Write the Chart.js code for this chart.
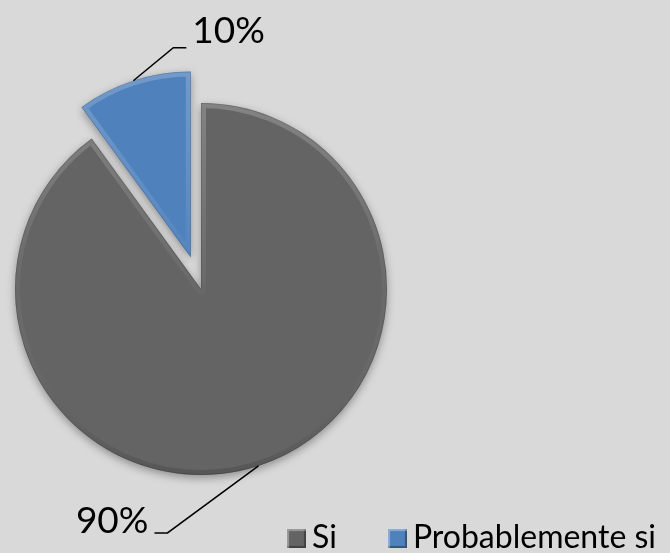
<!DOCTYPE html>
<html>
<head>
<meta charset="utf-8">
<script src="https://cdn.jsdelivr.net/npm/chart.js@4.4.0/dist/chart.umd.min.js"></script>
<style>
  html, body { margin: 0; padding: 0; background: #d9d9d9; }
  #wrap { position: relative; width: 670px; height: 553px; overflow: hidden; }
  #pie-chart { display: block; }
  #legend {
    position: absolute; left: 287px; top: 520px; width: 400px;
    display: flex; align-items: center; white-space: nowrap;
    font-family: Lato, sans-serif; font-size: 32px; line-height: 32px; color: #000;
  }
  #legend .item { display: flex; align-items: center; margin-right: 51px; }
  #legend .box {
    width: 19px; height: 19px; margin: 5px 6px 0 0; box-sizing: border-box; flex: none;
    box-shadow: inset 2px 2px 1px rgba(255,255,255,0.35), inset -2px -2px 1px rgba(0,0,0,0.35);
  }
</style>
</head>
<body>
<div id="wrap">
  <canvas id="pie-chart" width="670" height="553"></canvas>
  <div id="legend"></div>
</div>
<script>
const categories = ['Si', 'Probablemente si'];
const values = [90, 10];
const sliceColors = ['#646464', '#4f81bd'];

// soft edge band, a bit like the bevel on the original
function bevel(ctx, arc) {
  const { x, y, startAngle, endAngle, outerRadius } = arc;
  ctx.save();
  ctx.beginPath();
  ctx.moveTo(x, y);
  ctx.arc(x, y, outerRadius, startAngle, endAngle);
  ctx.closePath();
  ctx.clip();
  const g = ctx.createLinearGradient(0, y - outerRadius, 0, y + outerRadius);
  g.addColorStop(0, 'rgba(255,255,255,0.20)');
  g.addColorStop(0.5, 'rgba(255,255,255,0.03)');
  g.addColorStop(1, 'rgba(0,0,0,0.14)');
  ctx.lineJoin = 'round';
  ctx.lineWidth = 10;
  ctx.strokeStyle = g;
  ctx.stroke();
  ctx.lineWidth = 1.5;
  ctx.strokeStyle = 'rgba(0,0,0,0.18)';
  ctx.stroke();
  ctx.restore();
}

// draws each slice itself so the exploded one can be pulled out by a fixed distance
const explodePlugin = {
  id: 'explode',
  beforeDatasetDraw(chart, args, opts) {
    const ctx = chart.ctx;
    args.meta.data.forEach((arc, i) => {
      const d = opts.distances[i] || 0;
      const mid = (arc.startAngle + arc.endAngle) / 2;
      ctx.save();
      ctx.translate(Math.cos(mid) * d, Math.sin(mid) * d);
      ctx.save();
      ctx.shadowColor = 'rgba(0,0,0,0.35)';
      ctx.shadowBlur = 8;
      ctx.shadowOffsetY = 3;
      arc.draw(ctx);
      ctx.restore();
      bevel(ctx, arc);
      ctx.restore();
    });
    return false;
  }
};

const leaderPlugin = {
  id: 'leaders',
  afterDatasetsDraw(chart, args, opts) {
    const ctx = chart.ctx;
    const meta = chart.getDatasetMeta(0);
    const dist = chart.options.plugins.explode.distances;
    const total = values.reduce((a, b) => a + b, 0);
    ctx.save();
    ctx.strokeStyle = '#000';
    ctx.lineWidth = 1.5;
    ctx.fillStyle = '#000';
    ctx.font = opts.font;
    ctx.textBaseline = 'alphabetic';
    meta.data.forEach((arc, i) => {
      const d = dist[i] || 0;
      const mid = (arc.startAngle + arc.endAngle) / 2;
      const cx = arc.x + Math.cos(mid) * d;
      const cy = arc.y + Math.sin(mid) * d;
      const px = cx + Math.cos(mid) * arc.outerRadius;
      const py = cy + Math.sin(mid) * arc.outerRadius;
      const [dx, dy, textDy] = opts.elbows[i];
      const bx = px + dx;
      const by = py + dy;
      const dir = dx >= 0 ? 1 : -1;
      const ex = bx + dir * 13;
      ctx.beginPath();
      ctx.moveTo(px, py);
      ctx.lineTo(bx, by);
      ctx.lineTo(ex, by);
      ctx.stroke();
      ctx.textAlign = dir > 0 ? 'left' : 'right';
      ctx.fillText(Math.round(values[i] / total * 100) + '%', ex + dir * 6, by + textDy);
    });
    ctx.restore();
  }
};

new Chart(document.getElementById('pie-chart'), {
  type: 'pie',
  data: {
    labels: categories,
    datasets: [{
      data: values,
      backgroundColor: sliceColors,
      borderWidth: 0
    }]
  },
  options: {
    responsive: false,
    animation: false,
    radius: 186,
    layout: { padding: { top: 25, right: 268 } },
    plugins: {
      legend: { display: false },
      tooltip: { enabled: false },
      explode: { distances: [0, 33] },
      leaders: { font: '37px Lato', elbows: [[-91, 67, 0], [40, -33, -5]] }
    }
  },
  plugins: [explodePlugin, leaderPlugin]
});

// legend built from the same arrays
const legend = document.getElementById('legend');
categories.forEach((name, i) => {
  const item = document.createElement('div');
  item.className = 'item';
  const box = document.createElement('span');
  box.className = 'box';
  box.style.background = sliceColors[i];
  const txt = document.createElement('span');
  txt.textContent = name;
  item.appendChild(box);
  item.appendChild(txt);
  legend.appendChild(item);
});
</script>
</body>
</html>
